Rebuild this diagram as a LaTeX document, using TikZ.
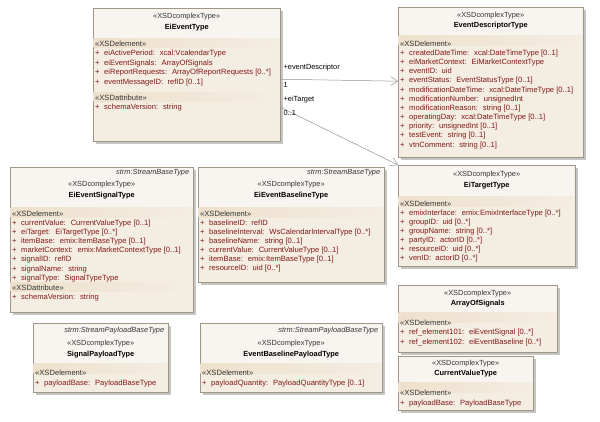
\documentclass[tikz,border=0pt]{standalone}
\usepackage{fontspec}
\setmainfont{Liberation Sans}
\usetikzlibrary{positioning,shadows,arrows.meta}
\definecolor{boxfill}{RGB}{244,237,226}
\definecolor{headfill}{RGB}{248,245,240}
\definecolor{bandfill}{RGB}{238,224,204}
\definecolor{boxline}{RGB}{160,150,135}
\definecolor{attrred}{RGB}{130,25,25}
\definecolor{labelgray}{RGB}{55,55,55}
\definecolor{linkgray}{RGB}{150,150,150}
\newcommand{\attrplus}{\makebox[9pt][l]{+}}
\newcommand{\stlabel}[1]{{\color{labelgray}#1}}

\begin{document}
\begin{tikzpicture}[x=1pt,y=-1pt]
\tikzset{umlbox/.style={draw=boxline,fill=boxfill,anchor=north west,inner sep=0pt,drop shadow={shadow xshift=2.5pt,shadow yshift=-2.5pt,fill=black!45,opacity=0.5}},
headpart/.style={draw=boxline,fill=headfill},
band/.style={left color=bandfill,right color=boxfill,draw=none},
sepline/.style={draw=boxline!70},
ster/.style={font=\fontsize{7.4}{9}\selectfont,text=labelgray,inner sep=0pt},
cname/.style={font=\fontsize{7.4}{9}\selectfont\bfseries,inner sep=0pt},
super/.style={font=\fontsize{7.4}{9}\selectfont\itshape,text=labelgray,anchor=east,inner sep=0pt},
members/.style={font=\fontsize{7.6}{9.2}\selectfont,align=left,anchor=north west,inner sep=0pt,text=attrred},
role/.style={font=\fontsize{7.4}{9}\selectfont,anchor=west,inner sep=0pt},
link/.style={draw=linkgray,line width=0.5pt,-{Straight Barb[length=7pt,width=9pt]}}}
\useasboundingbox[fill=white] (0,0) rectangle (600,421);

% EiEventType
\node[umlbox,minimum width=187pt,minimum height=133pt] (EiEvent) at (93,8) {};
\draw[headpart] (EiEvent.north west) rectangle ([yshift=-30pt]EiEvent.north east);
\shade[band] ([shift={(0.5pt,-30.5pt)}]EiEvent.north west) rectangle ([shift={(-0.5pt,-39pt)}]EiEvent.north east);
\draw[sepline] ([yshift=-84pt]EiEvent.north west) -- ([yshift=-84pt]EiEvent.north east);
\shade[band] ([shift={(0.5pt,-84.5pt)}]EiEvent.north west) rectangle ([shift={(-0.5pt,-93pt)}]EiEvent.north east);
\node[ster] (EiEventSter) at ([yshift=-9pt]EiEvent.north) {«XSDcomplexType»};
\node[cname] (EiEventName) at ([yshift=-20pt]EiEvent.north) {EiEventType};
\node[members,font=\fontsize{7.6}{9.5}\selectfont] (EiEventElem) at ([shift={(2pt,-32.4pt)}]EiEvent.north west) {\stlabel{«XSDelement»}\\
\attrplus eiActivePeriod:~ xcal:VcalendarType\\
\attrplus eiEventSignals:~ ArrayOfSignals\\
\attrplus eiReportRequests:~ ArrayOfReportRequests [0..*]\\
\attrplus eventMessageID:~ refID [0..1]};
\node[members] (EiEventAttr) at ([shift={(2pt,-86.4pt)}]EiEvent.north west) {\stlabel{«XSDattribute»}\\
\attrplus schemaVersion:~ string};

% EventDescriptorType
\node[umlbox,minimum width=185pt,minimum height=150pt] (EventDescr) at (398,7) {};
\draw[headpart] (EventDescr.north west) rectangle ([yshift=-28pt]EventDescr.north east);
\shade[band] ([shift={(0.5pt,-28.5pt)}]EventDescr.north west) rectangle ([shift={(-0.5pt,-38pt)}]EventDescr.north east);
\node[ster] (EventDescrSter) at ([yshift=-8.5pt]EventDescr.north) {«XSDcomplexType»};
\node[cname] (EventDescrName) at ([yshift=-18.5pt]EventDescr.north) {EventDescriptorType};
\node[members,font=\fontsize{7.6}{9.18}\selectfont] (EventDescrElem) at ([shift={(2pt,-33.4pt)}]EventDescr.north west) {\stlabel{«XSDelement»}\\
\attrplus createdDateTime:~ xcal:DateTimeType [0..1]\\
\attrplus eiMarketContext:~ EiMarketContextType\\
\attrplus eventID:~ uid\\
\attrplus eventStatus:~ EventStatusType [0..1]\\
\attrplus modificationDateTime:~ xcal:DateTimeType [0..1]\\
\attrplus modificationNumber:~ unsignedInt\\
\attrplus modificationReason:~ string [0..1]\\
\attrplus operatingDay:~ xcal:DateTimeType [0..1]\\
\attrplus priority:~ unsignedInt [0..1]\\
\attrplus testEvent:~ string [0..1]\\
\attrplus vtnComment:~ string [0..1]};

% EiEventSignalType
\node[umlbox,minimum width=183pt,minimum height=145pt] (EiSignal) at (10,167) {};
\draw[headpart] (EiSignal.north west) rectangle ([yshift=-40pt]EiSignal.north east);
\shade[band] ([shift={(0.5pt,-40.5pt)}]EiSignal.north west) rectangle ([shift={(-0.5pt,-50pt)}]EiSignal.north east);
\draw[sepline] ([yshift=-115pt]EiSignal.north west) -- ([yshift=-115pt]EiSignal.north east);
\shade[band] ([shift={(0.5pt,-115.5pt)}]EiSignal.north west) rectangle ([shift={(-0.5pt,-124pt)}]EiSignal.north east);
\node[super] (EiSignalSuper) at ([shift={(-4pt,-5.5pt)}]EiSignal.north east) {strm:StreamBaseType};
\node[ster] (EiSignalSter) at ([yshift=-18pt]EiSignal.north) {«XSDcomplexType»};
\node[cname] (EiSignalName) at ([yshift=-28.5pt]EiSignal.north) {EiEventSignalType};
\node[members,font=\fontsize{7.6}{9.15}\selectfont] (EiSignalElem) at ([shift={(2pt,-43.4pt)}]EiSignal.north west) {\stlabel{«XSDelement»}\\
\attrplus currentValue:~ CurrentValueType [0..1]\\
\attrplus eiTarget:~ EiTargetType [0..*]\\
\attrplus itemBase:~ emix:ItemBaseType [0..1]\\
\attrplus marketContext:~ emix:MarketContextType [0..1]\\
\attrplus signalID:~ refID\\
\attrplus signalName:~ string\\
\attrplus signalType:~ SignalTypeType};
\node[members] (EiSignalAttr) at ([shift={(2pt,-117.4pt)}]EiSignal.north west) {\stlabel{«XSDattribute»}\\
\attrplus schemaVersion:~ string};

% EiEventBaselineType
\node[umlbox,minimum width=186pt,minimum height=115pt] (EiBaseline) at (198,167) {};
\draw[headpart] (EiBaseline.north west) rectangle ([yshift=-40pt]EiBaseline.north east);
\shade[band] ([shift={(0.5pt,-40.5pt)}]EiBaseline.north west) rectangle ([shift={(-0.5pt,-50pt)}]EiBaseline.north east);
\node[super] (EiBaselineSuper) at ([shift={(-4pt,-5.5pt)}]EiBaseline.north east) {strm:StreamBaseType};
\node[ster] (EiBaselineSter) at ([yshift=-18pt]EiBaseline.north) {«XSDcomplexType»};
\node[cname] (EiBaselineName) at ([yshift=-28.5pt]EiBaseline.north) {EiEventBaselineType};
\node[members,font=\fontsize{7.6}{9.1}\selectfont] (EiBaselineElem) at ([shift={(2pt,-43.4pt)}]EiBaseline.north west) {\stlabel{«XSDelement»}\\
\attrplus baselineID:~ refID\\
\attrplus baselineInterval:~ WsCalendarIntervalType [0..*]\\
\attrplus baselineName:~ string [0..1]\\
\attrplus currentValue:~ CurrentValueType [0..1]\\
\attrplus itemBase:~ emix:ItemBaseType [0..1]\\
\attrplus resourceID:~ uid [0..*]};

% EiTargetType
\node[umlbox,minimum width=177pt,minimum height=101pt] (EiTarget) at (398,165) {};
\draw[headpart] (EiTarget.north west) rectangle ([yshift=-31pt]EiTarget.north east);
\shade[band] ([shift={(0.5pt,-31.5pt)}]EiTarget.north west) rectangle ([shift={(-0.5pt,-41pt)}]EiTarget.north east);
\node[ster] (EiTargetSter) at ([yshift=-10pt]EiTarget.north) {«XSDcomplexType»};
\node[cname] (EiTargetName) at ([yshift=-20.5pt]EiTarget.north) {EiTargetType};
\node[members,font=\fontsize{7.6}{9.1}\selectfont] (EiTargetElem) at ([shift={(2pt,-35.4pt)}]EiTarget.north west) {\stlabel{«XSDelement»}\\
\attrplus emixInterface:~ emix:EmixInterfaceType [0..*]\\
\attrplus groupID:~ uid [0..*]\\
\attrplus groupName:~ string [0..*]\\
\attrplus partyID:~ actorID [0..*]\\
\attrplus resourceID:~ uid [0..*]\\
\attrplus venID:~ actorID [0..*]};

% SignalPayloadType
\node[umlbox,minimum width=135pt,minimum height=69pt] (SigPayload) at (33,323) {};
\draw[headpart] (SigPayload.north west) rectangle ([yshift=-40pt]SigPayload.north east);
\shade[band] ([shift={(0.5pt,-40.5pt)}]SigPayload.north west) rectangle ([shift={(-0.5pt,-50pt)}]SigPayload.north east);
\node[super] (SigPayloadSuper) at ([shift={(-4pt,-8pt)}]SigPayload.north east) {strm:StreamPayloadBaseType};
\node[ster] (SigPayloadSter) at ([yshift=-21pt]SigPayload.north) {«XSDcomplexType»};
\node[cname] (SigPayloadName) at ([yshift=-31.5pt]SigPayload.north) {SignalPayloadType};
\node[members,font=\fontsize{7.6}{10.5}\selectfont] (SigPayloadElem) at ([shift={(2pt,-46.4pt)}]SigPayload.north west) {\stlabel{«XSDelement»}\\
\attrplus payloadBase:~ PayloadBaseType};

% EventBaselinePayloadType
\node[umlbox,minimum width=182pt,minimum height=69pt] (BasePayload) at (200,323) {};
\draw[headpart] (BasePayload.north west) rectangle ([yshift=-40pt]BasePayload.north east);
\shade[band] ([shift={(0.5pt,-40.5pt)}]BasePayload.north west) rectangle ([shift={(-0.5pt,-50pt)}]BasePayload.north east);
\node[super] (BasePayloadSuper) at ([shift={(-4pt,-8pt)}]BasePayload.north east) {strm:StreamPayloadBaseType};
\node[ster] (BasePayloadSter) at ([yshift=-21pt]BasePayload.north) {«XSDcomplexType»};
\node[cname] (BasePayloadName) at ([yshift=-31.5pt]BasePayload.north) {EventBaselinePayloadType};
\node[members,font=\fontsize{7.6}{10.5}\selectfont] (BasePayloadElem) at ([shift={(2pt,-46.4pt)}]BasePayload.north west) {\stlabel{«XSDelement»}\\
\attrplus payloadQuantity:~ PayloadQuantityType [0..1]};

% ArrayOfSignals
\node[umlbox,minimum width=159pt,minimum height=67pt] (SigArray) at (398,285) {};
\draw[headpart] (SigArray.north west) rectangle ([yshift=-27pt]SigArray.north east);
\shade[band] ([shift={(0.5pt,-27.5pt)}]SigArray.north west) rectangle ([shift={(-0.5pt,-37pt)}]SigArray.north east);
\node[ster] (SigArraySter) at ([yshift=-9pt]SigArray.north) {«XSDcomplexType»};
\node[cname] (SigArrayName) at ([yshift=-18.5pt]SigArray.north) {ArrayOfSignals};
\node[members,font=\fontsize{7.6}{9.6}\selectfont] (SigArrayElem) at ([shift={(2pt,-34.4pt)}]SigArray.north west) {\stlabel{«XSDelement»}\\
\attrplus ref\_element101:~ eiEventSignal [0..*]\\
\attrplus ref\_element102:~ eiEventBaseline [0..*]};

% CurrentValueType
\node[umlbox,minimum width=135pt,minimum height=54pt] (CurValue) at (398,356) {};
\draw[headpart] (CurValue.north west) rectangle ([yshift=-26pt]CurValue.north east);
\shade[band] ([shift={(0.5pt,-26.5pt)}]CurValue.north west) rectangle ([shift={(-0.5pt,-36pt)}]CurValue.north east);
\node[ster] (CurValueSter) at ([yshift=-7.5pt]CurValue.north) {«XSDcomplexType»};
\node[cname] (CurValueName) at ([yshift=-17.5pt]CurValue.north) {CurrentValueType};
\node[members,font=\fontsize{7.6}{10}\selectfont] (CurValueElem) at ([shift={(2pt,-33.4pt)}]CurValue.north west) {\stlabel{«XSDelement»}\\
\attrplus payloadBase:~ PayloadBaseType};

% associations
\draw[link] ([yshift=-4.5pt]EiEvent.east) -- ([yshift=1pt]EventDescr.west);
\draw[link] ([yshift=-32.5pt]EiEvent.east) -- (EiTarget.north west);
\node[role] (roleDescr) at ([shift={(3pt,7.5pt)}]EiEvent.east) {+eventDescriptor};
\node[role,below=18pt of roleDescr.west,anchor=west] (multDescr) {1};
\node[role,below=14pt of multDescr.west,anchor=west] (roleTarget) {+eiTarget};
\node[role,below=14pt of roleTarget.west,anchor=west] (multTarget) {0..1};
\end{tikzpicture}
\end{document}
